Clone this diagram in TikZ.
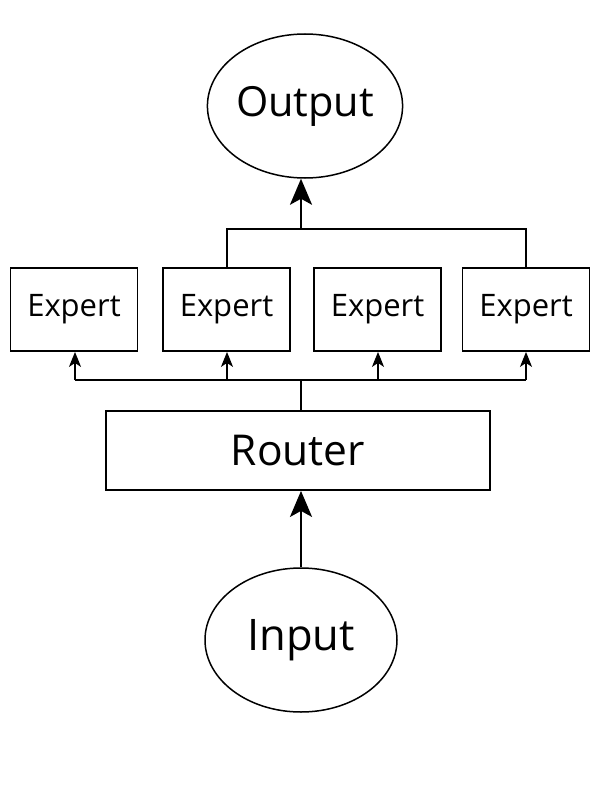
\documentclass[tikz,border=0pt]{standalone}
\usepackage{fontspec}
\setmainfont{Open Sans}
\usetikzlibrary{arrows.meta,shapes.geometric}
\begin{document}
\begin{tikzpicture}[x=1pt,y=-1pt,
  bigell/.style={draw,line width=1.5pt,ellipse,minimum width=192pt,minimum height=144pt,inner sep=0pt},
  expbox/.style={draw,line width=1.8pt,rectangle,minimum width=127pt,minimum height=83pt,inner sep=0pt,font=\fontsize{31}{33}\selectfont},
  routbox/.style={draw,line width=1.8pt,rectangle,minimum width=384pt,minimum height=79pt,inner sep=0pt,font=\fontsize{42.5}{44}\selectfont},
  conn/.style={line width=2.2pt},
  bigarrow/.style={conn,-{Stealth[length=26pt,width=22pt,inset=6pt]}},
  smallarrow/.style={line width=1.8pt,-{Stealth[length=15pt,width=12pt,inset=4pt]}}]
\useasboundingbox (0,0) rectangle (612,792);
\node[bigell,font=\fontsize{41.5}{44}\selectfont] (out) at (305,106) {Output};
\node[expbox] (e1) at (74,309.5) {Expert};
\node[expbox] (e2) at (226.5,309.5) {Expert};
\node[expbox] (e3) at (377.5,309.5) {Expert};
\node[expbox] (e4) at (526,309.5) {Expert};
\node[routbox] (r) at (298,450.5) {Router};
\node[bigell,font=\fontsize{43.5}{46}\selectfont] (in) at (301,640) {Input};
\coordinate (tl) at (227,229);
\coordinate (tm) at (301,229);
\coordinate (tr) at (526,229);
\coordinate (bl) at (75,380);
\coordinate (b2) at (227,380);
\coordinate (bm) at (301,380);
\coordinate (b3) at (378,380);
\coordinate (br) at (526,380);
% top merge
\draw[conn] (e2.north -| tl) -- (tl) -- (tr) -- (e4.north -| tr);
\draw[bigarrow] (tm) -- (out.south -| tm);
% bottom split
\draw[conn] (r.north -| bm) -- (bm);
\draw[conn] (bl) -- (br);
\draw[smallarrow] (bl) -- (e1.south -| bl);
\draw[smallarrow] (b2) -- (e2.south -| b2);
\draw[smallarrow] (b3) -- (e3.south -| b3);
\draw[smallarrow] (br) -- (e4.south -| br);
\draw[bigarrow] (in.north) -- (r.south -| in.north);
\end{tikzpicture}
\end{document}
